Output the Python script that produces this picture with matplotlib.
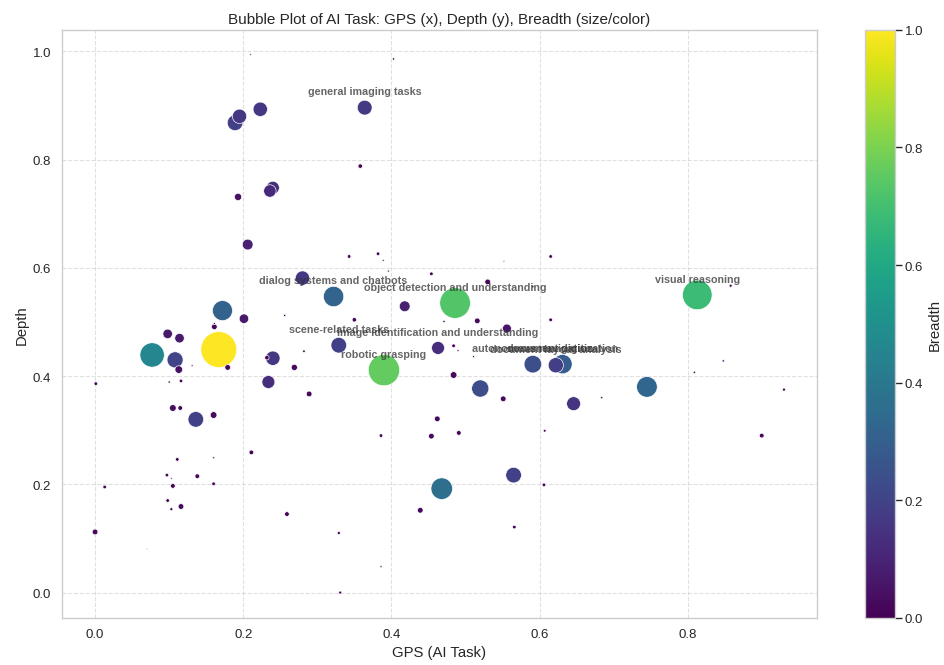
import matplotlib
matplotlib.use("Agg")
import matplotlib.pyplot as plt
import seaborn as sns

# GPS score, depth and breadth for each AI task
gps = [0.210, 0.403, 0.364, 0.189, 0.195, 0.223, 0.358, 0.240, 0.236, 0.193,
       0.206, 0.343, 0.382, 0.389, 0.552, 0.615, 0.396, 0.454, 0.280, 0.322,
       0.172, 0.201, 0.256, 0.350, 0.161, 0.161, 0.098, 0.114, 0.077, 0.167,
       0.108, 0.113, 0.131, 0.179, 0.329, 0.240, 0.232, 0.282, 0.269, 0.234,
       0.289, 0.001, 0.100, 0.116, 0.105, 0.115, 0.136, 0.160, 0.211, 0.486,
       0.390, 0.530, 0.591, 0.418, 0.471, 0.516, 0.615, 0.556, 0.463, 0.484,
       0.490, 0.511, 0.591, 0.631, 0.622, 0.484, 0.520, 0.551, 0.646, 0.462,
       0.386, 0.454, 0.491, 0.607, 0.813, 0.858, 0.848, 0.809, 0.745, 0.684,
       0.930, 0.900, 0.111, 0.160, 0.097, 0.103, 0.138, 0.105, 0.160, 0.013,
       0.098, 0.116, 0.103, 0.000, 0.070, 0.259, 0.329, 0.331, 0.468, 0.565,
       0.606, 0.439, 0.566, 0.386]

depth = [0.994, 0.986, 0.896, 0.868, 0.880, 0.893, 0.788, 0.748, 0.742, 0.731,
         0.643, 0.621, 0.626, 0.614, 0.612, 0.621, 0.594, 0.589, 0.581, 0.547,
         0.521, 0.506, 0.512, 0.504, 0.491, 0.497, 0.478, 0.470, 0.439, 0.449,
         0.430, 0.412, 0.419, 0.416, 0.457, 0.433, 0.434, 0.446, 0.416, 0.389,
         0.367, 0.386, 0.389, 0.391, 0.341, 0.341, 0.320, 0.328, 0.259, 0.535,
         0.411, 0.574, 0.565, 0.529, 0.501, 0.502, 0.504, 0.488, 0.452, 0.456,
         0.447, 0.436, 0.422, 0.422, 0.420, 0.402, 0.377, 0.358, 0.349, 0.321,
         0.290, 0.289, 0.295, 0.299, 0.550, 0.567, 0.428, 0.407, 0.380, 0.360,
         0.375, 0.290, 0.246, 0.249, 0.217, 0.211, 0.215, 0.197, 0.201, 0.195,
         0.170, 0.159, 0.154, 0.112, 0.081, 0.145, 0.110, 0.000, 0.192, 0.217,
         0.199, 0.152, 0.121, 0.048]

breadth = [0.002, 0.004, 0.170, 0.190, 0.160, 0.160, 0.015, 0.130, 0.120, 0.040,
           0.090, 0.010, 0.010, 0.003, 0.002, 0.010, 0.003, 0.010, 0.160, 0.320,
           0.310, 0.070, 0.004, 0.015, 0.025, 0.003, 0.070, 0.070, 0.460, 1.000,
           0.200, 0.045, 0.003, 0.025, 0.190, 0.160, 0.015, 0.005, 0.030, 0.130,
           0.025, 0.010, 0.004, 0.010, 0.035, 0.017, 0.190, 0.035, 0.017, 0.730,
           0.760, 0.025, 0.004, 0.090, 0.004, 0.025, 0.010, 0.060, 0.130, 0.010,
           0.003, 0.003, 0.240, 0.290, 0.180, 0.035, 0.230, 0.025, 0.150, 0.025,
           0.010, 0.025, 0.017, 0.006, 0.680, 0.007, 0.004, 0.004, 0.330, 0.004,
           0.007, 0.017, 0.010, 0.003, 0.010, 0.002, 0.017, 0.017, 0.010, 0.010,
           0.010, 0.025, 0.007, 0.025, 0.001, 0.017, 0.007, 0.007, 0.360, 0.190,
           0.010, 0.025, 0.010, 0.003]

# Named tasks and the index of the bubble each name belongs to
label_tasks = ["general imaging tasks", "dialog systems and chatbots",
               "object detection and understanding", "visual reasoning",
               "scene-related tasks", "image identification and understanding",
               "robotic grasping", "autonomous navigation",
               "document digitization", "document layout analysis"]
label_index = [2, 19, 49, 74, 34, 58, 50, 62, 63, 64]

sns.set_theme(style="whitegrid")
plt.rcParams["font.family"] = ["Liberation Sans", "DejaVu Sans"]

fig = plt.figure(figsize=(12, 8.466), dpi=944 / 12)
ax = fig.add_axes([0.0654, 0.0706, 0.7996, 0.8833])
cax = fig.add_axes([865 / 944, 0.0706, 29.5 / 944, 0.8833])

sizes = [b * 1080 for b in breadth]
sc = ax.scatter(gps, depth, s=sizes, c=breadth, cmap="viridis",
                vmin=0, vmax=1, edgecolors="white", linewidths=0.6)

for name, i in zip(label_tasks, label_index):
    ax.text(gps[i], depth[i] + 0.03, name, ha="center", va="center",
            fontsize=9.8, fontweight="bold", color="#333333", alpha=0.75)

ax.set_xlim(-0.045, 0.974)
ax.set_ylim(-0.047, 1.040)
ax.set_xticks([0.0, 0.2, 0.4, 0.6, 0.8])
ax.set_yticks([0.0, 0.2, 0.4, 0.6, 0.8, 1.0])
ax.grid(True, linestyle="--", alpha=0.6)
ax.tick_params(labelsize=12.2)
ax.set_xlabel("GPS (AI Task)", fontsize=13.6)
ax.set_ylabel("Depth", fontsize=13.6)
ax.set_title("Bubble Plot of AI Task: GPS (x), Depth (y), Breadth (size/color)",
             fontsize=14)

cbar = fig.colorbar(sc, cax=cax)
cbar.set_label("Breadth", fontsize=13.6)
cbar.ax.tick_params(labelsize=12.2)
cax.grid(False)

fig.savefig("out.png", dpi=944 / 12)
